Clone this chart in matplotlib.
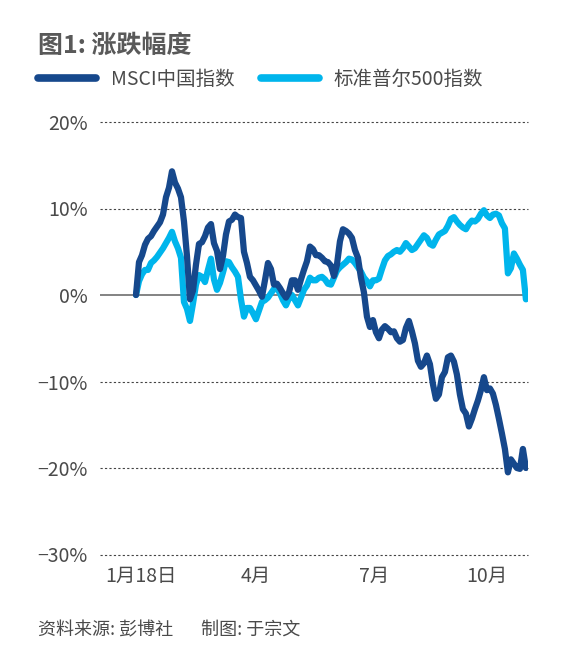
import matplotlib
matplotlib.use('Agg')
import matplotlib.pyplot as plt

plt.rcParams['font.family'] = ['Noto Sans CJK SC', 'DejaVu Sans']

# 数据: 自1月18日起的涨跌幅 (%)
msci_china = [
    0.0, 3.8, 4.6, 5.8, 6.5, 6.8, 7.4, 7.9, 8.4, 9.3,
    11.3, 12.4, 14.3, 13.0, 12.3, 11.3, 8.5, 4.5, -0.5, 0.5,
    3.5, 5.9, 6.1, 6.8, 7.8, 8.2, 6.0, 5.1, 3.0, 4.5,
    7.0, 8.5, 8.7, 9.3, 9.0, 8.9, 5.0, 3.7, 2.1, 1.7,
    1.1, 0.5, -0.2, 1.7, 3.7, 3.0, 1.2, 1.3, 0.8, 0.2,
    -0.3, 0.3, 1.7, 1.7, 0.6, 1.8, 2.9, 3.9, 5.6, 5.3,
    4.6, 4.6, 4.3, 3.9, 3.8, 3.4, 2.2, 3.5, 6.2, 7.6,
    7.4, 7.1, 6.6, 5.2, 4.3, 2.0, 0.3, -2.5, -3.7, -2.9,
    -4.3, -5.0, -4.0, -3.6, -3.9, -4.3, -4.2, -5.0, -5.4, -5.2,
    -3.8, -3.0, -4.2, -5.6, -7.6, -8.3, -7.9, -7.0, -8.0, -10.3,
    -12.0, -11.5, -9.5, -8.9, -7.2, -7.0, -7.7, -9.2, -11.5, -13.2,
    -13.7, -15.2, -14.3, -13.2, -12.2, -11.0, -9.5, -11.0, -10.8, -11.4,
    -12.7, -14.3, -16.0, -17.8, -20.5, -19.0, -19.5, -20.0, -20.1, -17.8,
    -20.0,
]
sp500 = [
    0.0, 1.6, 2.4, 2.9, 2.9, 3.7, 4.0, 4.4, 4.9, 5.4,
    6.0, 6.6, 7.3, 6.2, 5.4, 4.3, -0.8, -1.6, -3.0, -1.0,
    1.2, 2.3, 2.1, 1.5, 2.9, 4.2, 1.8, 0.6, 1.4, 2.6,
    3.9, 3.8, 3.2, 2.7, 2.1, -0.5, -2.5, -1.5, -1.5, -2.1,
    -2.8, -1.8, -0.8, -0.6, -0.3, 0.2, 0.7, 0.8, 0.2, -0.6,
    -1.2, -0.4, 0.0, -0.6, -1.2, -0.3, 0.6, 1.1, 2.0, 1.7,
    1.7, 2.0, 2.1, 1.8, 1.3, 1.2, 2.0, 2.8, 3.2, 3.5,
    3.8, 4.2, 4.1, 3.7, 3.2, 2.7, 2.0, 1.6, 1.0, 1.7,
    1.7, 1.9, 3.0, 4.0, 4.5, 4.7, 5.0, 5.2, 5.0, 5.4,
    6.0, 5.6, 5.2, 5.4, 5.9, 6.4, 6.9, 6.6, 5.9, 5.7,
    6.4, 7.0, 7.2, 7.4, 8.0, 8.8, 9.0, 8.5, 8.1, 7.8,
    7.6, 8.2, 8.6, 8.5, 8.8, 9.4, 9.8, 9.2, 8.9, 9.3,
    9.4, 9.2, 8.3, 7.7, 2.5, 3.1, 4.8, 4.2, 3.5, 2.9,
    -0.5,
]
x_ticks = [1.7, 40, 79.3, 117]
x_labels = ['1月18日', '4月', '7月', '10月']
y_ticks = [-30, -20, -10, 0, 10, 20]
y_labels = ['−30%', '−20%', '−10%', '0%', '10%', '20%']

DARK = '#16488c'
LIGHT = '#00b5ec'
TXT = '#4a4a4a'

fig = plt.figure(figsize=(5.69, 6.48), dpi=100)
ax = fig.add_axes([100 / 569, 1 - 554.5 / 648, 428 / 569, (554.5 - 122) / 648])

days = range(len(msci_china))
ax.plot(days, sp500, color=LIGHT, lw=4.5, solid_joinstyle='round',
        solid_capstyle='round', label='标准普尔500指数', zorder=3)
ax.plot(days, msci_china, color=DARK, lw=4.5, solid_joinstyle='round',
        solid_capstyle='round', label='MSCI中国指数', zorder=4)

for v in y_ticks:
    if v == 0:
        ax.axhline(0, color='#7a7a7a', lw=1.3, zorder=2)
    else:
        ax.axhline(v, color='#444444', lw=0.8, ls=(0, (2, 2)), zorder=1, clip_on=False)

ax.set_xlim(-12, 130.7)
ax.set_ylim(-30, 20)
ax.set_yticks(y_ticks)
ax.set_yticklabels(y_labels, fontweight='light')
ax.set_xticks(x_ticks)
ax.set_xticklabels(x_labels, fontweight='light')
ax.tick_params(length=0, labelsize=14, colors=TXT)
ax.tick_params(axis='y', pad=9)
ax.tick_params(axis='x', pad=8)
for s in ax.spines.values():
    s.set_visible(False)

fig.text(38 / 569, 1 - 46 / 648, '图1: 涨跌幅度', fontsize=18, fontweight='bold',
         color='#595959', va='center', ha='left')

h, l = ax.get_legend_handles_labels()
leg = fig.legend(h[::-1], l[::-1], loc='center left',
                 bbox_to_anchor=(38 / 569, 1 - 79 / 648), ncol=2, frameon=False,
                 fontsize=14, handlelength=3.0, handletextpad=0.75,
                 columnspacing=1.35, borderpad=0, borderaxespad=0)
for line in leg.get_lines():
    line.set_linewidth(5.5)
for t in leg.get_texts():
    t.set_color(TXT)
    t.set_fontweight('light')

fig.text(38 / 569, 1 - 630 / 648, '资料来源: 彭博社       制图: 于宗文', fontsize=13,
         color=TXT, va='center', ha='left', fontweight='light')

fig.savefig('out.png', dpi=100)
